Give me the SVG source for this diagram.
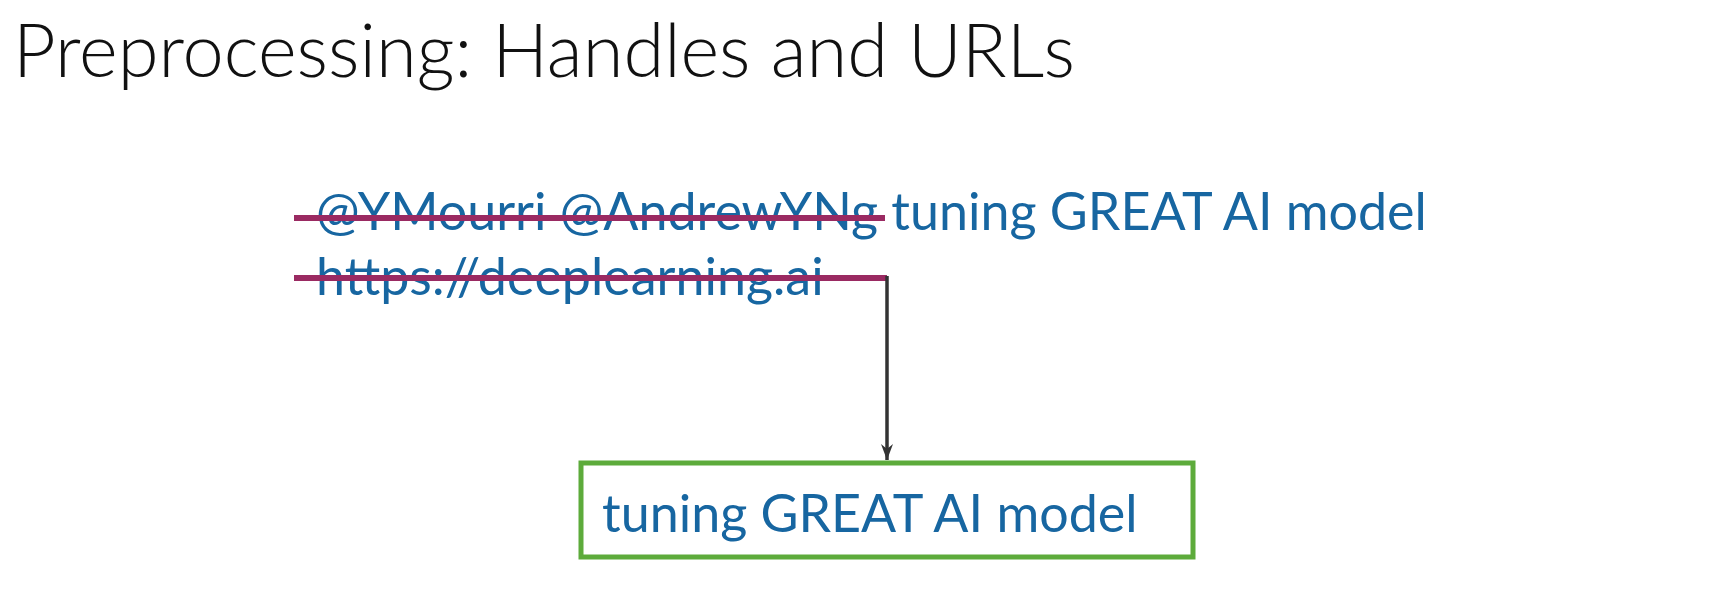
<svg xmlns="http://www.w3.org/2000/svg" width="1728" height="594" viewBox="0 0 1728 594">
  <defs>
    <marker id="arrowhead" viewBox="0 0 16 12" refX="16" refY="6" markerWidth="16" markerHeight="12" markerUnits="userSpaceOnUse" orient="auto">
      <path d="M0,0 L16,6 L0,12 L5,6 Z" fill="#333333"/>
    </marker>
    <style>
      .title { font-family: Lato, "Liberation Sans", sans-serif; font-weight: 300; font-size: 74px; fill: #111111; }
      .tweet { font-family: Lato, "Liberation Sans", sans-serif; font-size: 52px; fill: #1766a1; }
      .strike { stroke: #9a2a62; stroke-width: 6; fill: none; }
      .box { fill: #ffffff; stroke: #5dab3b; stroke-width: 5; }
      .conn { stroke: #333333; stroke-width: 3.5; fill: none; }
    </style>
  </defs>
  <rect width="1728" height="594" fill="#ffffff"/>

  <text class="title" x="13" y="77">Preprocessing: Handles and URLs</text>

  <!-- original tweet -->
  <g id="tweet">
    <text class="tweet" x="316" y="230">@YMourri @AndrewYNg tuning GREAT AI model</text>
    <text class="tweet" x="316" y="295">https://deeplearning.ai</text>
  </g>

  <!-- removed handles and URL -->
  <g id="strikes">
    <line class="strike" x1="294" y1="218" x2="885" y2="218"/>
    <line class="strike" x1="294" y1="278" x2="887" y2="278"/>
  </g>

  <!-- cleaned result -->
  <g id="result">
    <rect class="box" x="581" y="463" width="612" height="94"/>
    <text class="tweet" x="602" y="532">tuning GREAT AI model</text>
  </g>

  <g id="connectors">
    <line class="conn" x1="887" y1="276" x2="887" y2="460" marker-end="url(#arrowhead)"/>
  </g>
</svg>
